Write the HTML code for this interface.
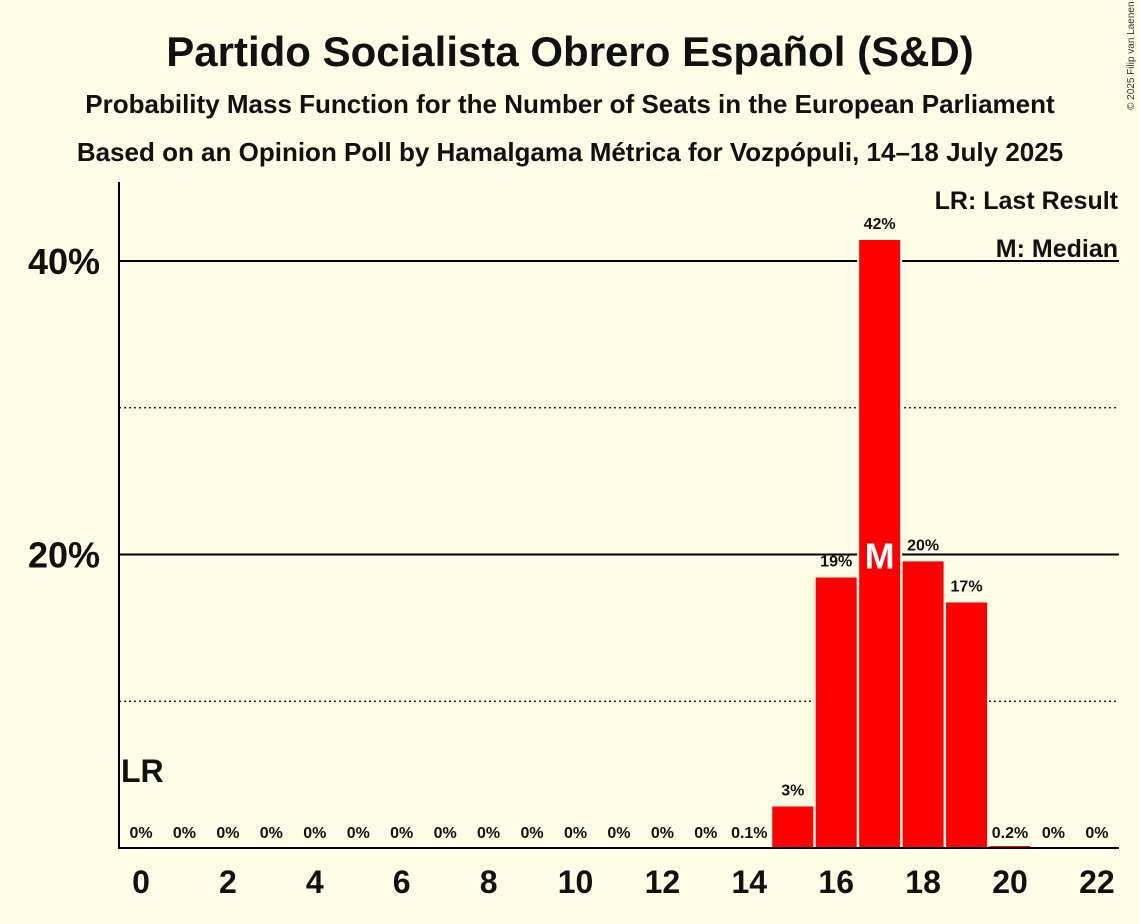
<!DOCTYPE html>
<html><head><meta charset="utf-8"><style>
body{margin:0;background:#fffde6;}
svg{display:block;font-family:"Liberation Sans",sans-serif;}
</style></head><body>
<svg id="chart" width="1139" height="924">
<rect width="1139" height="924" fill="#fffde6"/>
<text x="570" y="66" text-anchor="middle" font-size="42" font-weight="bold" fill="#111">Partido Socialista Obrero Español (S&amp;D)</text>
<text x="570" y="113" text-anchor="middle" font-size="26" font-weight="bold" fill="#111">Probability Mass Function for the Number of Seats in the European Parliament</text>
<text x="570" y="161" text-anchor="middle" font-size="26" font-weight="bold" fill="#111">Based on an Opinion Poll by Hamalgama Métrica for Vozpópuli, 14–18 July 2025</text>
<text x="1134" y="110" font-size="10" fill="#333" transform="rotate(-90 1134 110)">© 2025 Filip van Laenen</text>
<g id="grid"></g>
<g id="bars"></g>
<g id="labels"></g>
<g id="xticks"></g>
<line x1="119" y1="182" x2="119" y2="848" stroke="#000" stroke-width="2"/>
<line x1="118" y1="848" x2="1119" y2="848" stroke="#000" stroke-width="2"/>
<text x="1118" y="209" text-anchor="end" font-size="25" font-weight="bold" fill="#111">LR: Last Result</text>
<text x="1118" y="257" text-anchor="end" font-size="25" font-weight="bold" fill="#111">M: Median</text>
</svg>
<script>
const seats=[0,1,2,3,4,5,6,7,8,9,10,11,12,13,14,15,16,17,18,19,20,21,22];
const probs=[0,0,0,0,0,0,0,0,0,0,0,0,0,0,0.1,2.9,18.5,41.5,19.6,16.8,0.2,0,0];
const probLabels=["0%","0%","0%","0%","0%","0%","0%","0%","0%","0%","0%","0%","0%","0%","0.1%","3%","19%","42%","20%","17%","0.2%","0%","0%"];
const yTicks=[20,40];
const yTickLabels=["20%","40%"];
const dottedTicks=[10,30];
const xTickSeats=[0,2,4,6,8,10,12,14,16,18,20,22];
const medianSeat=17;
const lastResultSeat=0;
const NS="http://www.w3.org/2000/svg";
const x=s=>141+s*43.45;
const y=p=>848-p*14.675;
function mk(tag,attrs,parent,txt){const e=document.createElementNS(NS,tag);for(const k in attrs)e.setAttribute(k,attrs[k]);if(txt!==undefined)e.textContent=txt;document.getElementById(parent).appendChild(e);return e;}
dottedTicks.forEach(t=>{const e=mk('line',{x1:119,x2:1119,y1:y(t),y2:y(t),stroke:'#000','stroke-width':1.2,'stroke-dasharray':'2,3'},'grid');

});
yTicks.forEach((t,i)=>{const e=mk('line',{x1:119,x2:1119,y1:y(t),y2:y(t),stroke:'#000','stroke-width':2},'grid');


const l=mk('text',{x:100,y:y(t)+13,'text-anchor':'end','font-size':36,'font-weight':'bold',fill:'#111'},'grid',yTickLabels[i]);

});
seats.forEach((s,i)=>{const p=probs[i];
if(p>0){const r=mk('rect',{x:x(s)-21.5,y:y(p),width:43,height:848-y(p),fill:'#ff0000'},'bars');


r.setAttribute('stroke','#fffde6');r.setAttribute('stroke-width','2');}
const t=mk('text',{x:x(s),y:y(p)-10,'text-anchor':'middle','font-size':16,'font-weight':'bold',fill:'#111'},'labels',probLabels[i]);
if(p<1)t.setAttribute('y',838);

});
const m=mk('text',{x:x(medianSeat),y:y(20)+14,'text-anchor':'middle','font-size':36,'font-weight':'bold',fill:'#fff'},'labels','M');


const lr=mk('text',{x:x(lastResultSeat)-20,y:782,'font-size':32,'font-weight':'bold',fill:'#111'},'labels','LR');


xTickSeats.forEach(s=>{const t=mk('text',{x:x(s),y:893,'text-anchor':'middle','font-size':32,'font-weight':'bold',fill:'#111'},'xticks',String(s));

});
</script>
</body></html>
